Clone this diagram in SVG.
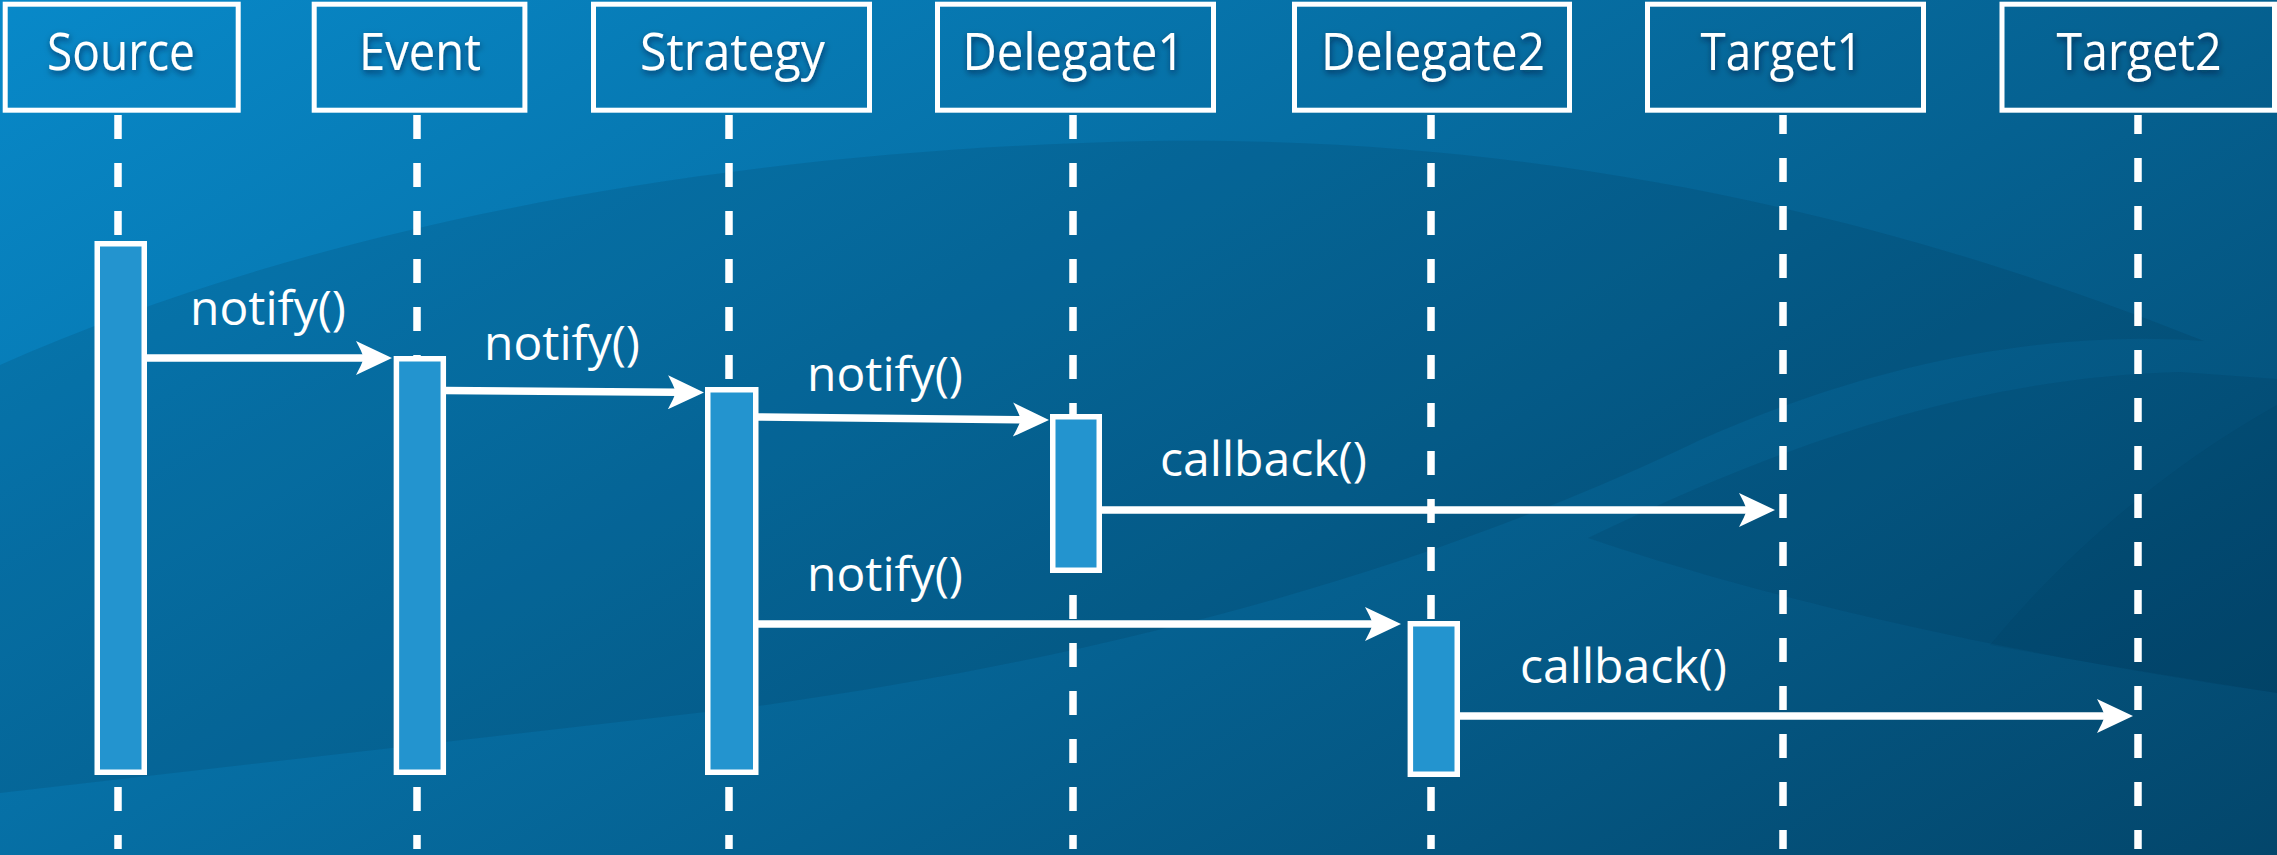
<svg xmlns="http://www.w3.org/2000/svg" width="2277" height="855" viewBox="0 0 2277 855">
  <defs>
    <linearGradient id="bg" gradientUnits="userSpaceOnUse" x1="0" y1="0" x2="958" y2="1636">
      <stop offset="0" stop-color="#0889c9"/>
      <stop offset="1" stop-color="#03466b"/>
    </linearGradient>
    <filter id="sh" x="-15%" y="-30%" width="130%" height="170%">
      <feDropShadow dx="1" dy="3" stdDeviation="3" flood-color="#00182c" flood-opacity="0.55"/>
    </filter>
    <marker id="ah" markerUnits="userSpaceOnUse" viewBox="-10 -19 40 38" refX="0" refY="0" markerWidth="40" markerHeight="38" orient="auto" overflow="visible">
      <path d="M28,0 L-8,-17 Q-3,-8 0,0 Q-3,8 -8,17 Z" fill="#ffffff"/>
    </marker>
    <style>
      .hdr { fill: none; stroke: #ffffff; stroke-width: 5; }
      .act { fill: #2394cf; stroke: #ffffff; stroke-width: 5.5; }
      .life { stroke: #ffffff; stroke-width: 7.5; stroke-dasharray: 24 24; fill: none; }
      .msg { stroke: #ffffff; stroke-width: 7.5; fill: none; marker-end: url(#ah); }
      .ht { font-family: "Open Sans", "Noto Sans", "Liberation Sans", sans-serif; font-size: 51px; fill: #ffffff; text-anchor: middle; filter: url(#sh); }
      .lt { font-family: "Open Sans", "Noto Sans", "Liberation Sans", sans-serif; font-size: 47px; fill: #ffffff; }
    </style>
  </defs>

  <g id="background">
    <rect x="0" y="0" width="2277" height="855" fill="url(#bg)"/>
    <path d="M0,365 C300,232 700,150 1150,141 C1600,135 1950,240 2204,341 C2050,330 1880,360 1700,440 C1450,560 1150,650 766,705 L0,793 Z" fill="#001a30" fill-opacity="0.11"/>
    <path d="M1588,538 C1750,460 1950,378 2180,372 L2277,379 L2277,693 C2050,660 1800,610 1588,538 Z" fill="#001a30" fill-opacity="0.09"/>
    <path d="M2277,405 C2160,470 2060,560 1990,645 C2100,665 2200,680 2277,693 Z" fill="#001a30" fill-opacity="0.05"/>
  </g>

  <g id="lifelines">
    <line class="life" x1="118" y1="115" x2="118" y2="849"/>
    <line class="life" x1="417" y1="115" x2="417" y2="849"/>
    <line class="life" x1="729" y1="115" x2="729" y2="849"/>
    <line class="life" x1="1073" y1="115" x2="1073" y2="849"/>
    <line class="life" x1="1431" y1="115" x2="1431" y2="849"/>
    <line class="life" x1="1783" y1="115" x2="1783" y2="849" stroke-dashoffset="5"/>
    <line class="life" x1="2138" y1="115" x2="2138" y2="849" stroke-dashoffset="5"/>
  </g>

  <g id="connectors">
    <path class="msg" d="M145,358 L364,358"/>
    <path class="msg" d="M444,390.5 L676,392.3"/>
    <path class="msg" d="M756,417 L1021,419.7"/>
    <path class="msg" d="M1100,510 L1747,510"/>
    <path class="msg" d="M756,624 L1373,624"/>
    <path class="msg" d="M1458,716 L2105,716"/>
  </g>

  <g id="labels">
    <text class="lt" x="190" y="325" textLength="156" lengthAdjust="spacingAndGlyphs">notify()</text>
    <text class="lt" x="484" y="360" textLength="156" lengthAdjust="spacingAndGlyphs">notify()</text>
    <text class="lt" x="807" y="391" textLength="156" lengthAdjust="spacingAndGlyphs">notify()</text>
    <text class="lt" x="1160" y="476" textLength="207" lengthAdjust="spacingAndGlyphs">callback()</text>
    <text class="lt" x="807" y="591" textLength="156" lengthAdjust="spacingAndGlyphs">notify()</text>
    <text class="lt" x="1520" y="683" textLength="207" lengthAdjust="spacingAndGlyphs">callback()</text>
  </g>

  <g id="node-source">
    <rect class="hdr" x="5.2" y="4.2" width="233" height="106"/>
    <text class="ht" x="121" y="70" textLength="148" lengthAdjust="spacingAndGlyphs">Source</text>
    <rect class="act" x="97.25" y="243.75" width="47" height="528.5"/>
  </g>
  <g id="node-event">
    <rect class="hdr" x="314.2" y="4.2" width="210.7" height="106"/>
    <text class="ht" x="420" y="70" textLength="122" lengthAdjust="spacingAndGlyphs">Event</text>
    <rect class="act" x="396.4" y="358.75" width="46.9" height="413.5"/>
  </g>
  <g id="node-strategy">
    <rect class="hdr" x="593.5" y="4.2" width="276" height="106"/>
    <text class="ht" x="732.5" y="70" textLength="185" lengthAdjust="spacingAndGlyphs">Strategy</text>
    <rect class="act" x="707.75" y="389.75" width="48" height="382.5"/>
  </g>
  <g id="node-delegate1">
    <rect class="hdr" x="937.5" y="4.2" width="276" height="106"/>
    <text class="ht" x="1073.5" y="70" textLength="222" lengthAdjust="spacingAndGlyphs">Delegate1</text>
    <rect class="act" x="1052.75" y="416.75" width="46.5" height="153.5"/>
  </g>
  <g id="node-delegate2">
    <rect class="hdr" x="1294.5" y="4.2" width="275" height="106"/>
    <text class="ht" x="1433" y="70" textLength="224" lengthAdjust="spacingAndGlyphs">Delegate2</text>
    <rect class="act" x="1410.35" y="623.75" width="46.9" height="150.5"/>
  </g>
  <g id="node-target1">
    <rect class="hdr" x="1647.5" y="4.2" width="276" height="106"/>
    <text class="ht" x="1781.5" y="70" textLength="162" lengthAdjust="spacingAndGlyphs">Target1</text>
  </g>
  <g id="node-target2">
    <rect class="hdr" x="2002" y="4.2" width="272.5" height="106"/>
    <text class="ht" x="2139" y="70" textLength="165" lengthAdjust="spacingAndGlyphs">Target2</text>
  </g>
</svg>
